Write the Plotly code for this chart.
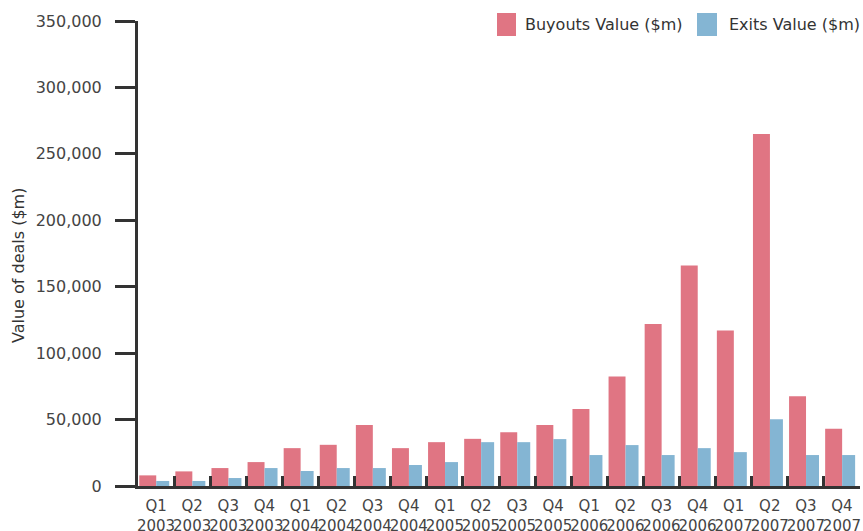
import plotly.graph_objects as go

quarters = ["Q1", "Q2", "Q3", "Q4"] * 5
years = ["2003"] * 4 + ["2004"] * 4 + ["2005"] * 4 + ["2006"] * 4 + ["2007"] * 4
categories = [f"{q}<br>{y}" for q, y in zip(quarters, years)]

buyouts = [8000, 11000, 13500, 18000, 28500, 31000, 46000, 28500, 33000, 35500,
           40500, 46000, 58000, 82500, 122000, 166000, 117000, 265000, 67500, 43000]
exits = [3800, 3800, 6000, 13500, 11300, 13500, 13500, 15800, 18000, 33000,
         33000, 35300, 23300, 30800, 23300, 28500, 25500, 50300, 23300, 23300]

series_names = ["Buyouts Value ($m)", "Exits Value ($m)"]
PINK = "#E07583"
BLUE = "#84B5D3"
AX = "#333333"
FONT = "DejaVu Sans, Verdana, sans-serif"

W, H = 863, 531
L, R, T, B = 138, 3, 21, 45
pw, ph = W - L - R, H - T - B

def px_x(x):
    return (x - L) / pw

def px_y(y):
    return (H - B - y) / ph

fig = go.Figure()
fig.add_trace(go.Bar(x=categories, y=buyouts, name=series_names[0],
                     marker=dict(color=PINK, line=dict(width=0)),
                     offset=-0.465, width=0.47, showlegend=False))
fig.add_trace(go.Bar(x=categories, y=exits, name=series_names[1],
                     marker=dict(color=BLUE, line=dict(width=0)),
                     offset=0.005, width=0.36, showlegend=False))

fig.update_layout(
    width=W, height=H,
    margin=dict(l=L, r=R, t=T, b=B, pad=0, autoexpand=False),
    paper_bgcolor="white", plot_bgcolor="white",
    barmode="overlay",
    font=dict(family=FONT, size=15, color="#444444"),
    xaxis=dict(
        type="category", automargin=False,
        showline=True, linecolor=AX, linewidth=3,
        ticks="inside", tickson="boundaries", ticklen=10, tickwidth=3, tickcolor=AX,
        showgrid=False, zeroline=False, tickangle=0,
        tickfont=dict(size=15, color="#444444"),
        ticklabelstandoff=4,
    ),
    yaxis=dict(
        range=[0, 350000], dtick=50000, tickformat=",d", automargin=False,
        showline=True, linecolor=AX, linewidth=3,
        ticks="outside", ticklen=20, tickwidth=3, tickcolor=AX,
        showgrid=False, zeroline=False,
        tickfont=dict(size=16, color="#444444"),
        ticklabelstandoff=10,
    ),
)

# axis title
fig.add_annotation(text="Value of deals ($m)", xref="paper", yref="paper",
                   x=px_x(18), y=px_y(266), textangle=-90, showarrow=False,
                   font=dict(size=16, color="#333333"), xanchor="center", yanchor="middle")

# custom legend
legend_items = [(series_names[0], PINK, 497, 516, 523), (series_names[1], BLUE, 697, 717, 727)]
for name, color, x0, x1, tx in legend_items:
    fig.add_shape(type="rect", xref="paper", yref="paper",
                  x0=px_x(x0), x1=px_x(x1), y0=px_y(36), y1=px_y(13),
                  fillcolor=color, line=dict(width=0))
    fig.add_annotation(text=name, xref="paper", yref="paper",
                       x=px_x(tx), y=px_y(24.5), showarrow=False,
                       xanchor="left", yanchor="middle",
                       font=dict(size=16, color="#333333"))

fig.write_html("out.html", config={"displayModeBar": False},
               post_script="document.body.style.margin='0';")
